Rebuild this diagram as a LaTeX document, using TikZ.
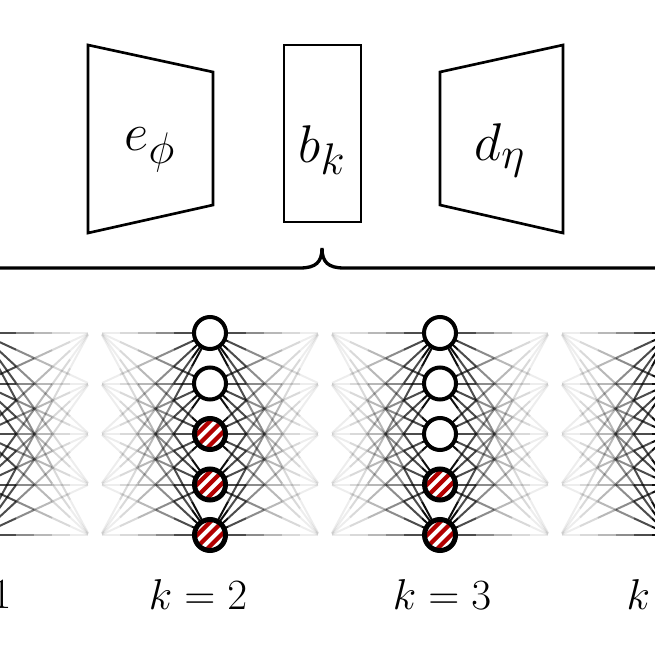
\documentclass[tikz,border=0pt]{standalone}
\usepackage{graphicx}
\usetikzlibrary{calc}
\begin{document}
\begin{tikzpicture}[x=0.75pt,y=-0.75pt,
  nn/.style={circle,draw=black,line width=3pt,fill=white,minimum size=24pt,inner sep=0pt},
  shp/.style={draw=black,line width=2pt}]
\newcommand{\lbltxt}[1]{\scalebox{1.3}{\Huge$#1$}}
\newcommand{\bigtxt}[1]{\scalebox{1.6}{\Huge$#1$}}
\useasboundingbox (0,0) rectangle (655,655);
\fill[white] (0,0) rectangle (655,655);
% connections
\foreach \cx in {-20,210,440,670}{
  \foreach \a in {0,...,4}{
    \foreach \b in {0,...,4}{
      \foreach \s in {-1,1}{
        \pgfmathsetmacro{\ya}{333+50.5*\a}
        \pgfmathsetmacro{\yb}{333+50.5*\b}
        \foreach \t/\o in {0/0.95,0.15/0.7,0.3/0.45,0.45/0.28,0.6/0.15,0.75/0.07}{
          \pgfmathsetmacro{\tt}{\t+0.15}
          \draw[black,opacity=\o,line width=1.5pt]
            ({\cx+\s*120*\t},{\ya+(\yb-\ya)*1.1*\t}) -- ({\cx+\s*120*\tt},{\ya+(\yb-\ya)*1.1*\tt});
        }
      }
    }
  }
}
% nodes
\foreach \cx/\nm/\nred in {210/a/3,440/b/2}{
  \foreach \a in {0,...,4}{
    \pgfmathsetmacro{\ya}{333+50.5*\a}
    \node[nn] (\nm\a) at (\cx,\ya) {};
    \pgfmathtruncatemacro{\isred}{\a>=5-\nred ? 1 : 0}
    \ifnum\isred=1
      \begin{scope}
        \clip (\cx,\ya) circle (14);
        \foreach \d in {-16,-4,8}{
          \fill[red!70!black] ({\cx-20},{\ya+20+\d}) -- ({\cx+20},{\ya-20+\d}) -- ({\cx+20},{\ya-20+\d+6}) -- ({\cx-20},{\ya+20+\d+6}) -- cycle;
        }
      \end{scope}
      \draw[black,line width=3pt] (\cx,\ya) circle (15);
    \fi
  }
}
% top shapes
\draw[shp] (88,45) -- (213,72) -- (213,205) -- (88,233) -- cycle;
\node (e) at (150,150) {\bigtxt{e_\phi}};
\draw[shp] (284,45) rectangle (361,222);
\node (bk) at (322,150) {\bigtxt{b_k}};
\draw[shp] (440,72) -- (563,45) -- (563,233) -- (440,205) -- cycle;
\node (d) at (500,150) {\bigtxt{d_\eta}};
% brace
\draw[line width=2.5pt,line cap=round] (-5,268) -- (300,268) .. controls (316,268) and (322,262) .. (322,248)
  .. controls (322,262) and (328,268) .. (344,268) -- (660,268);
% labels
\node[anchor=east] (k1) at (16,595) {\lbltxt{1}};
\node (k2) at (198,595) {\lbltxt{k=2}};
\node (k3) at (442,595) {\lbltxt{k=3}};
\node[anchor=west] (k4) at (622,595) {\lbltxt{k}};
\end{tikzpicture}
\end{document}
